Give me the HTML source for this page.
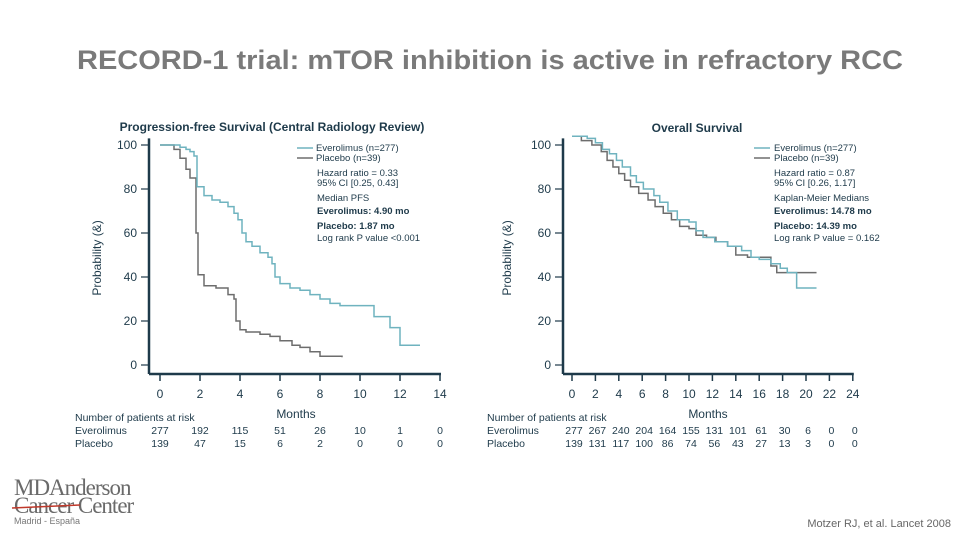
<!DOCTYPE html>
<html><head><meta charset="utf-8"><style>
html,body{margin:0;padding:0;background:#fff;}
svg{display:block;font-family:"Liberation Sans",Arial,sans-serif;}
</style></head><body>
<svg width="960" height="540" viewBox="0 0 960 540" id="s">
<text x="490" y="69" text-anchor="middle" font-size="27" font-weight="bold" fill="#7a7a7a" textLength="826" lengthAdjust="spacingAndGlyphs">RECORD-1 trial: mTOR inhibition is active in refractory RCC</text>

<text x="272" y="131" text-anchor="middle" font-size="12" font-weight="bold" fill="#1e3a4a">Progression-free Survival (Central Radiology Review)</text>
<text x="697" y="132" text-anchor="middle" font-size="12" font-weight="bold" fill="#1e3a4a">Overall Survival</text>

<text transform="translate(101,258) rotate(-90)" text-anchor="middle" font-size="12" fill="#1e3a4a">Probability (&amp;)</text>
<text transform="translate(511,258) rotate(-90)" text-anchor="middle" font-size="12" fill="#1e3a4a">Probability (&amp;)</text>
<text x="296" y="418" text-anchor="middle" font-size="12" fill="#1e3a4a">Months</text>
<text x="708" y="418" text-anchor="middle" font-size="12" fill="#1e3a4a">Months</text>

<g id="pfsg"></g>
<g id="osg"></g>

<g font-size="9.5" fill="#1e3a4a">
<line x1="297" y1="148" x2="313" y2="148" stroke="#6fb3bf" stroke-width="1.5"/>
<text x="316" y="151">Everolimus (n=277)</text>
<line x1="297" y1="158" x2="313" y2="158" stroke="#6d6d6d" stroke-width="1.5"/>
<text x="316" y="161">Placebo (n=39)</text>
<text x="317" y="176">Hazard ratio = 0.33</text>
<text x="317" y="186">95% CI [0.25, 0.43]</text>
<text x="317" y="201">Median PFS</text>
<text x="317" y="214" font-weight="bold">Everolimus: 4.90 mo</text>
<text x="317" y="229" font-weight="bold">Placebo: 1.87 mo</text>
<text x="317" y="241">Log rank P value &lt;0.001</text>
</g>
<g font-size="9.5" fill="#1e3a4a">
<line x1="754" y1="148" x2="770" y2="148" stroke="#6fb3bf" stroke-width="1.5"/>
<text x="774" y="151">Everolimus (n=277)</text>
<line x1="754" y1="158" x2="770" y2="158" stroke="#6d6d6d" stroke-width="1.5"/>
<text x="774" y="161">Placebo (n=39)</text>
<text x="774" y="176">Hazard ratio = 0.87</text>
<text x="774" y="186">95% CI [0.26, 1.17]</text>
<text x="774" y="201">Kaplan-Meier Medians</text>
<text x="774" y="214" font-weight="bold">Everolimus: 14.78 mo</text>
<text x="774" y="229" font-weight="bold">Placebo: 14.39 mo</text>
<text x="774" y="241">Log rank P value = 0.162</text>
</g>

<g font-size="10.5" fill="#1e3a4a">
<text x="75" y="421">Number of patients at risk</text>
<text x="75" y="434">Everolimus</text>
<text x="75" y="447">Placebo</text>
</g>
<g font-size="10.5" fill="#1e3a4a">
<text x="487" y="421">Number of patients at risk</text>
<text x="487" y="434">Everolimus</text>
<text x="487" y="447">Placebo</text>
</g>

<g>
<text x="14" y="495" font-family="'Liberation Serif',serif" font-size="23" fill="#6a6a6a" letter-spacing="-1">MDAnderson</text>
<text x="14" y="513" font-family="'Liberation Serif',serif" font-size="23" fill="#6a6a6a" letter-spacing="-1">Cancer Center</text>
<line x1="12" y1="508" x2="80" y2="505" stroke="#c0392b" stroke-width="1.5"/>
<text x="14" y="524" font-size="9" fill="#777">Madrid - España</text>
</g>
<text x="951" y="527" text-anchor="end" font-size="11" fill="#666">Motzer RJ, et al. Lancet 2008</text>
</svg>
<script>
const pfsMonthsTicks = [0,2,4,6,8,10,12,14];
const pfsEveroRisk = [277,192,115,51,26,10,1,0];
const pfsPlaceboRisk = [139,47,15,6,2,0,0,0];
const osMonthsTicks = [0,2,4,6,8,10,12,14,16,18,20,22,24];
const osEveroRisk = [277,267,240,204,164,155,131,101,61,30,6,0,0];
const osPlaceboRisk = [139,131,117,100,86,74,56,43,27,13,3,0,0];
const yTicks = [0,20,40,60,80,100];
const pfsEveroT = [0,1.0,1.3,1.5,1.7,1.85,2.2,2.6,3.0,3.4,3.7,3.9,4.1,4.3,4.6,5.0,5.4,5.6,5.75,6.0,6.5,7.0,7.5,8.0,8.5,9.0,10.7,11.5,12.0,13.0];
const pfsEveroS = [100,99,98,97,95,81,77,75,74,72,69,66,60,56,54,51,49,46,40,37,35,34,32,30,28,27,22,17,9,9];
const pfsPlaceboT = [0,0.7,1.0,1.3,1.5,1.8,1.9,2.2,2.8,3.4,3.7,3.8,4.0,4.3,5.0,5.5,6.0,6.6,7.0,7.5,8.0,9.1];
const pfsPlaceboS = [100,98,94,89,85,60,41,36,35,32,30,20,16,15,14,13,11,9,8,6,4,3.5];
const osEveroT = [0,1.3,2.0,2.6,3.2,3.8,4.3,5.0,5.5,6.1,7.0,7.5,8.2,9.0,10.0,10.6,11.2,12.2,13.3,14.5,15.3,16.0,17.0,17.8,18.4,19.2,20.9];
const osEveroS = [104,103,101,98,96,93,90,86,83,80,77,74,70,66,65,61,58,56,54,52,49,48,46,44,42,35,35];
const osPlaceboT = [0,0.8,1.7,2.5,3.0,3.5,4.0,4.5,5.0,5.7,6.5,7.1,7.8,8.5,9.2,10.0,10.6,11.5,12.3,13.3,14.0,15.0,16.2,17.0,17.5,20.9];
const osPlaceboS = [104,102,100,97,93,90,87,84,81,78,75,72,69,66,63,62,59,58,56,54,50,49,49,45,42,42];

const NS = "http://www.w3.org/2000/svg";
function mk(parent, tag, attrs){ const e=document.createElementNS(NS,tag); for(const k in attrs) e.setAttribute(k,attrs[k]); parent.appendChild(e); return e; }

function drawChart(g, cfg){
  const sx = m => cfg.x0 + (m - cfg.xmin) * cfg.xs;
  const sy = v => cfg.y0 - v * 2.2;
  const axis = "#1e3a4a";
  const ya = mk(g,"line",{x1:cfg.ax,y1:sy(103),x2:cfg.ax,y2:374,stroke:axis,"stroke-width":2.5});
  
  
  const xa = mk(g,"line",{x1:cfg.ax,y1:374,x2:sx(cfg.xmax)+1,y2:374,stroke:axis,"stroke-width":2.5});
  
  
  yTicks.forEach(v=>{
    mk(g,"line",{x1:cfg.ax-8,y1:sy(v),x2:cfg.ax,y2:sy(v),stroke:axis,"stroke-width":1.2});
    const t = mk(g,"text",{x:cfg.ax-12,y:sy(v)+4,"text-anchor":"end","font-size":12,fill:axis});
    t.textContent = v;
    
    
  });
  cfg.ticks.forEach((m,i)=>{
    mk(g,"line",{x1:sx(m),y1:374,x2:sx(m),y2:381,stroke:axis,"stroke-width":1.5});
    const t = mk(g,"text",{x:sx(m),y:398,"text-anchor":"middle","font-size":12,fill:axis});
    t.textContent = m;
    
    
    const r1 = mk(g,"text",{x:sx(m)+cfg.rOff,y:434,"text-anchor":"middle","font-size":10.5,fill:axis});
    r1.textContent = cfg.r1[i];
    
    
    const r2 = mk(g,"text",{x:sx(m)+cfg.rOff,y:447,"text-anchor":"middle","font-size":10.5,fill:axis});
    r2.textContent = cfg.r2[i];
    
    
  });
  cfg.series.forEach(s=>{
    let d = "M"+sx(s.t[0])+","+sy(s.s[0]);
    for(let i=1;i<s.t.length;i++){ d += " H"+sx(s.t[i])+" V"+sy(s.s[i]); }
    const p = mk(g,"path",{d:d,fill:"none",stroke:s.c,"stroke-width":1.5});
    
    
  });
}
drawChart(document.getElementById('pfsg'),{x0:160,xmin:0,xmax:14,xs:20,ax:149,y0:365,ticks:pfsMonthsTicks,r1:pfsEveroRisk,r2:pfsPlaceboRisk,rOff:0,
  series:[{t:pfsPlaceboT,s:pfsPlaceboS,c:"#6d6d6d",n:"pfs-placebo-curve"},{t:pfsEveroT,s:pfsEveroS,c:"#6fb3bf",n:"pfs-everolimus-curve"}]});
drawChart(document.getElementById('osg'),{x0:572,xmin:0,xmax:24,xs:11.7,ax:563,y0:365,ticks:osMonthsTicks,r1:osEveroRisk,r2:osPlaceboRisk,rOff:2,
  series:[{t:osPlaceboT,s:osPlaceboS,c:"#6d6d6d",n:"os-placebo-curve"},{t:osEveroT,s:osEveroS,c:"#6fb3bf",n:"os-everolimus-curve"}]});
</script>
</body></html>
